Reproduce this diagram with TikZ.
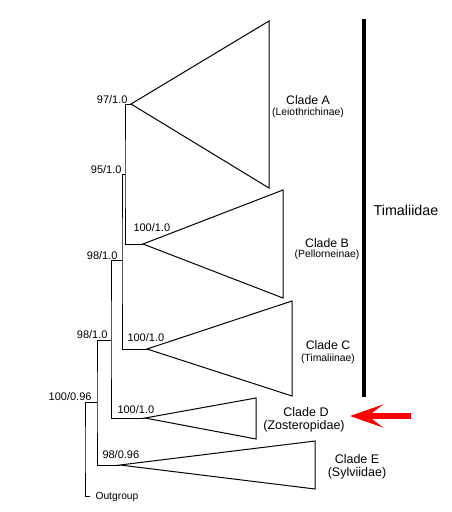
\documentclass[tikz,border=0pt]{standalone}
\usepackage{fontspec}
\setmainfont{Liberation Sans}
\usetikzlibrary{arrows.meta}

\begin{document}
\begin{tikzpicture}[x=1pt, y=-1pt, line width=1pt,
    supporto/.style={font=\fontsize{11}{13}\selectfont, inner sep=0pt},
    clade/.style={font=\fontsize{12.3}{14}\selectfont, inner sep=0pt, anchor=base},
    sottofam/.style={font=\fontsize{10.4}{12}\selectfont, inner sep=0pt, anchor=base},
    famiglia/.style={font=\fontsize{12.5}{14}\selectfont, inner sep=0pt, anchor=base}]
    \useasboundingbox (0,0) rectangle (451,512);

    % Apici dei cladi
    \coordinate (A) at (131,104);
    \coordinate (B) at (143,244);
    \coordinate (C) at (147,349);
    \coordinate (D) at (145,418);
    \coordinate (E) at (120,465);

    % Triangoli
    \draw (A) -- (269,21) -- (269,188) -- cycle;
    \draw (B) -- (283,190) -- (283,298) -- cycle;
    \draw (C) -- (292,301) -- (292,396) -- cycle;
    \draw (D) -- (256,398) -- (256,439) -- cycle;
    \draw (E) -- (315,441) -- (315,489) -- cycle;

    % Nodi interni
    \coordinate (n97) at (125,174);
    \coordinate (n95) at (122,260);
    \coordinate (n98a) at (111,340);
    \coordinate (n98b) at (97,402);
    \coordinate (radice) at (85,450);
    \coordinate (out) at (90,496);

    % Rami
    \draw (A) -| (n97) |- (B);
    \draw (n97) -| (n95) |- (C);
    \draw (n95) -| (n98a) |- (D);
    \draw (n98a) -| (n98b) |- (E);
    \draw (n98b) -| (radice) |- (out);

    % Valori di supporto
    \node[supporto, anchor=base east] (s97) at (128,103) {97/1.0};
    \node[supporto, anchor=base east] (s95) at (122,173) {95/1.0};
    \node[supporto, anchor=base west] (s100b) at (133,231) {100/1.0};
    \node[supporto, anchor=base east] (s98a) at (118,259) {98/1.0};
    \node[supporto, anchor=base east] (s98b) at (108,338) {98/1.0};
    \node[supporto, anchor=base west] (s100c) at (127,341) {100/1.0};
    \node[supporto, anchor=base west] (s100d) at (117,413) {100/1.0};
    \node[supporto, anchor=base east] (s100r) at (92,400) {100/0.96};
    \node[supporto, anchor=base west] (s98e) at (102,458) {98/0.96};
    \node[font=\fontsize{10.3}{12}\selectfont, inner sep=0pt, anchor=base west] (outgr) at (95,499) {Outgroup};

    % Etichette dei cladi
    \node[clade] (lA) at (308,104) {Clade A};
    \node[sottofam] (tA) at (308,115) {(Leiothrichinae)};
    \node[clade] (lB) at (327,247) {Clade B};
    \node[sottofam] (tB) at (327,257) {(Pellorneinae)};
    \node[clade] (lC) at (328,349) {Clade C};
    \node[sottofam] (tC) at (328,361) {(Timaliinae)};
    \node[famiglia] (lD) at (306,416) {Clade D};
    \node[famiglia] (tD) at (304,429) {(Zosteropidae)};
    \node[famiglia] (lE) at (357,463) {Clade E};
    \node[famiglia] (tE) at (357,476) {(Sylviidae)};

    % Barra Timaliidae
    \coordinate (barra1) at (364,19);
    \coordinate (barra2) at (364,397);
    \draw[line width=3.5pt] (barra1) -- (barra2);
    \node[font=\fontsize{14.3}{16}\selectfont, inner sep=0pt, anchor=base] (timal) at (406,215) {Timaliidae};

    % Freccia rossa
    \coordinate (coda) at (411,416);
    \coordinate (punta) at (350,416);
    \draw[red, line width=6pt, -{Stealth[length=33pt, width=23pt, inset=15pt]}] (coda) -- (punta);
\end{tikzpicture}
\end{document}
